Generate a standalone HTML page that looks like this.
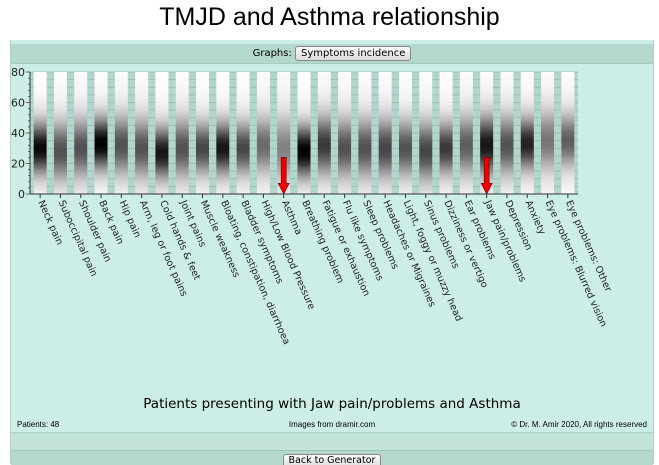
<!DOCTYPE html>
<html><head><meta charset="utf-8"><style>
body{margin:0;width:659px;height:464px;background:#fff;font-family:"DejaVu Sans","Liberation Sans",sans-serif;overflow:hidden;position:relative}
#title{position:absolute;left:0;top:3px;width:659px;text-align:center;font-family:"Liberation Sans",sans-serif;font-size:25px;color:#000}
#panel{position:absolute;left:10px;top:40px;width:642px;height:424px;background:#cdeee7;border-left:1px solid #b0d4ca;border-right:1px solid #b0d4ca}
#hdr{position:absolute;left:0;top:4px;width:642px;height:19px;background:#b4d7ce;border-bottom:1px solid #a5ccc2;font-size:10px;text-align:center;line-height:19px}
.btn{display:inline-block;border:1px solid #888;border-radius:3px;background:linear-gradient(#fafafa,#ddd);font-size:10px;line-height:13px;padding:0 5px;vertical-align:middle}
.ft{position:absolute;top:380px;font-size:8px;font-family:"Liberation Sans",sans-serif}
</style></head><body>
<div id="title">TMJD and Asthma relationship</div>
<div id="panel">
<div id="hdr">Graphs: <span class="btn">Symptoms incidence</span></div>
<div style="position:absolute;left:0;top:356px;width:642px;text-align:center;font-size:13.5px">Patients presenting with Jaw pain/problems and Asthma</div>
<div class="ft" style="left:6px">Patients: 48</div>
<div class="ft" style="left:0;width:642px;text-align:center">Images from dramir.com</div>
<div class="ft" style="right:6px">© Dr. M. Amir 2020, All rights reserved</div>
<div style="position:absolute;left:0;top:392px;width:642px;height:18px;background:#c2e2da;border-top:1px solid #aacfc5"></div>
<div style="position:absolute;left:0;top:410px;width:642px;height:14px;background:#b4d7ce;border-top:1px solid #9fc6bb;text-align:center;overflow:hidden"><span class="btn" style="font-size:9.5px;line-height:12px;margin-top:3px;vertical-align:top">Back to Generator</span></div>
</div>
<svg id="chart" width="659" height="464" style="position:absolute;left:0;top:0"></svg>
<script>
const categories=["Neck pain","Suboccipital pain","Shoulder pain","Back pain","Hip pain","Arm, leg or foot pains","Cold hands & feet","Joint pains","Muscle weakness","Bloating, constipation, diarrhoea","Bladder symptoms","High/Low Blood Pressure","Asthma","Breathing problem","Fatigue or exhaustion","Flu like symptoms","Sleep problems","Headaches or Migraines","Light, foggy or muzzy head","Sinus problems","Dizziness or vertigo","Ear problems","Jaw pain/problems","Depression","Anxiety","Eye problems: Blurred vision","Eye problems: Other"];
const centers=[30,28,30,33,32,30,27,30,30,30,30,32,30,28,32,30,30,30,30,28,30,32,32,32,33,35,35];
const spreads=[15,17,17,15,17,17,15,17,15,15,15,16,18,15,17,17,17,17,16,17,15,17,17,17,15,17,15];
const peaks=[0.9,0.6,0.6,0.95,0.6,0.6,0.85,0.6,0.65,0.85,0.65,0.5,0.4,0.95,0.7,0.6,0.6,0.65,0.6,0.65,0.7,0.55,0.85,0.6,0.8,0.45,0.55];
const highlighted=["Asthma","Jaw pain/problems"];
const yTicks=[0,20,40,60,80];
const NS="http://www.w3.org/2000/svg";
const svg=document.getElementById('chart');
const X0=30,X1=578,Y0=194,Y1=72,YMAX=80;
const step=(X1-X0)/categories.length;
const xs=i=>X0+step*(i+0.5);
const ys=v=>Y0-(v/YMAX)*(Y0-Y1);
function mk(t,a,p){const e=document.createElementNS(NS,t);for(const k in a)e.setAttribute(k,a[k]);(p||svg).appendChild(e);return e;}
const defs=mk('defs',{});
const bg=mk('rect',{x:X0,y:Y1,width:X1-X0,height:Y0-Y1,fill:'#b2d6cd'});


for(let v=0;v<=YMAX;v+=5){const l=mk('line',{x1:X0,x2:X1,y1:ys(v),y2:ys(v),stroke:'#93b8ae','stroke-width':0.8});

}
categories.forEach((c,i)=>{
  const g=mk('linearGradient',{id:'g'+i,x1:0,y1:1,x2:0,y2:0},defs);
  for(let v=0;v<=YMAX;v+=4){
    const d=(v-centers[i])/spreads[i];
    const dark=peaks[i]*Math.exp(-d*d*0.9)+0.12*Math.exp(-d*d*0.25);
    const lv=Math.max(0,Math.round(255*(1-dark*0.95)));
    mk('stop',{offset:(v/YMAX),'stop-color':`rgb(${lv},${lv},${lv})`},g);
  }
  const r=mk('rect',{x:xs(i)-6.5,y:Y1,width:13,height:Y0-Y1,fill:`url(#g${i})`});
  
  
  const t=mk('line',{x1:xs(i),x2:xs(i),y1:Y0,y2:Y0+4,stroke:'#333'});
  
  
  const tx=mk('text',{x:0,y:0,'font-size':9.6,fill:'#222','font-family':'DejaVu Sans, Liberation Sans, sans-serif',transform:`translate(${xs(i)-2},${Y0+8}) rotate(66)`});
  tx.textContent=c;
  
  
  if(highlighted.includes(c)){
    const a=mk('path',{d:`M${xs(i)-2.5},${ys(24)} h5 v${ys(7)-ys(24)} h3 l-5.5,${ys(0)-ys(7)} l-5.5,${-(ys(0)-ys(7))} h3 z`,fill:'#e00',stroke:'#600','stroke-width':0.6});
    
    
  }
});
const ax=mk('path',{d:`M${X0},${Y1} V${Y0} H${X1}`,fill:'none',stroke:'#333'});


for(let v=0;v<=YMAX;v+=4){const m=mk('line',{x1:X0-(v%20==0?4:2),x2:X0,y1:ys(v),y2:ys(v),stroke:'#333','stroke-width':0.7});

}
yTicks.forEach(v=>{const t=mk('text',{x:X0-5,y:ys(v)+4,'text-anchor':'end','font-size':11,fill:'#222'});t.textContent=v;

});
</script>
</body></html>
